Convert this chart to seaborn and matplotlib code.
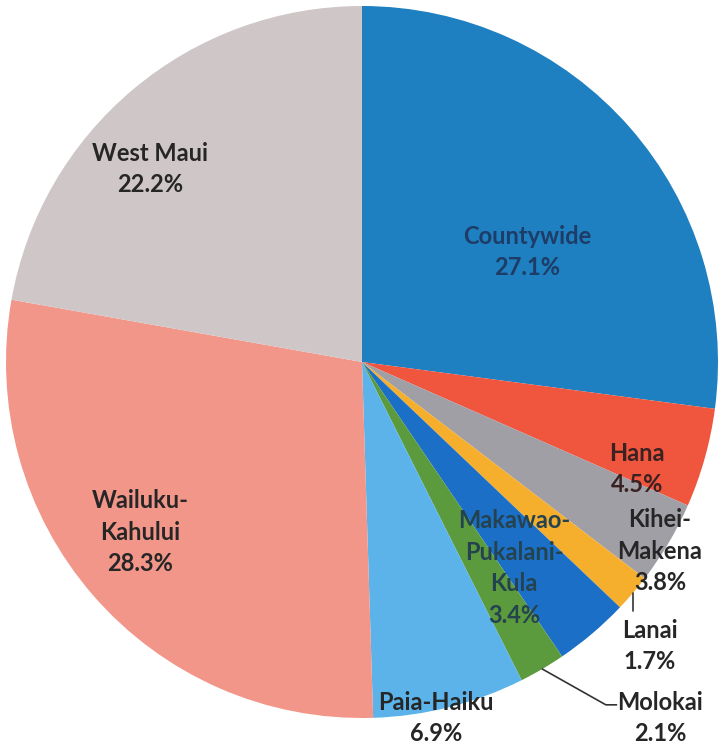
import numpy as np
import matplotlib
matplotlib.use("Agg")
import matplotlib.pyplot as plt
import seaborn as sns

# ---- data ----
regions = ["Countywide", "Hana", "Kihei-\nMakena", "Lanai", "Makawao-\nPukalani-\nKula",
           "Molokai", "Paia-Haiku", "Wailuku-\nKahului", "West Maui"]
shares = [27.1, 4.5, 3.8, 1.7, 3.4, 2.1, 6.9, 28.3, 22.2]
colors = ["#1f80c1", "#f0553d", "#a19fa6", "#f6ae2d", "#1b6fc6",
          "#5b9b3d", "#5bb3ea", "#f2968a", "#cfc7c7"]
text_colors = ["#1d3c66", "#3a2222", "#262626", "#262626", "#25434f",
               "#262626", "#262626", "#262626", "#262626"]
# label block centres (in pie-radius units, relative to pie centre)
label_pos = [(0.463, 0.309), (0.772, -0.301), (0.837, -0.531), (0.809, -0.798),
             (0.427, -0.579), (0.837, -1.0), (0.208, -1.0), (-0.624, -0.478),
             (-0.596, 0.542)]

sns.set_theme(style="white")
plt.rcParams["font.family"] = ["Lato", "DejaVu Sans"]

fig = plt.figure(figsize=(7.2, 7.49), dpi=100)
fig.patch.set_facecolor("white")
ax = fig.add_axes([0, 0, 1, 1])

wedges, _ = ax.pie(shares, colors=colors, startangle=90, counterclock=False,
                   radius=1.0, wedgeprops=dict(linewidth=0))

ax.set_xlim(-362 / 356, (720 - 362) / 356)
ax.set_ylim((362 - 749) / 356, 362 / 356)
ax.set_aspect("auto")
ax.axis("off")

for name, val, (x, y), tc in zip(regions, shares, label_pos, text_colors):
    ax.text(x, y, f"{name}\n{val:.1f}%", ha="center", va="center",
            multialignment="center", fontsize=17, fontweight="bold",
            color=tc, linespacing=1.45)

# leader lines for Lanai and Molokai
def mid_point(w, r=1.0):
    a = np.deg2rad((w.theta1 + w.theta2) / 2)
    return r * np.cos(a), r * np.sin(a)

lx, ly = mid_point(wedges[3])
ax.plot([lx, lx], [ly, ly - 0.05], color="#333333", lw=1.2)
mx, my = mid_point(wedges[5])
ax.plot([mx, 0.685, 0.715], [my, -0.963, -0.963], color="#333333", lw=1.2)

fig.savefig("out.png", dpi=100, facecolor="white")
